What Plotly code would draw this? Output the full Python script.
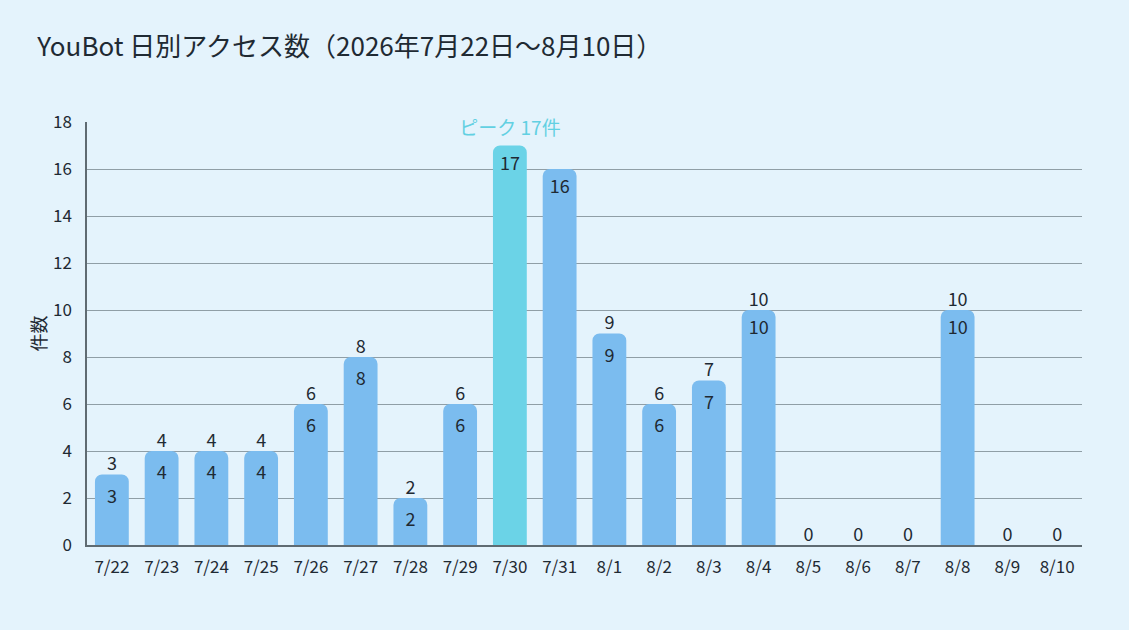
import plotly.graph_objects as go

# Daily access counts
dates = ["7/22", "7/23", "7/24", "7/25", "7/26", "7/27", "7/28", "7/29", "7/30", "7/31",
         "8/1", "8/2", "8/3", "8/4", "8/5", "8/6", "8/7", "8/8", "8/9", "8/10"]
counts = [3, 4, 4, 4, 6, 8, 2, 6, 17, 16, 9, 6, 7, 10, 0, 0, 0, 10, 0, 0]

bg = "#e4f3fc"
blue = "#7bbcef"
peak_color = "#6bd3e7"

peak = max(counts)
peak_idx = counts.index(peak)
colors = [peak_color if i == peak_idx else blue for i in range(len(counts))]

# labels inside the bar (top) and above the bar
inside_text = [str(v) if v > 0 else "" for v in counts]
above_text = [str(v) if v < 15 else "" for v in counts]

fig = go.Figure()
fig.add_trace(go.Bar(
    x=dates,
    y=counts,
    marker=dict(color=colors, line=dict(width=0)),
    text=inside_text,
    textposition="inside",
    insidetextanchor="end",
    textangle=0,
    textfont=dict(size=18, color="#1f2a33"),
    hoverinfo="x+y",
))
fig.add_trace(go.Scatter(
    x=dates,
    y=counts,
    mode="text",
    text=above_text,
    textposition="top center",
    textfont=dict(size=18, color="#1f2a33"),
    hoverinfo="skip",
))

fig.add_annotation(
    x=dates[peak_idx], y=18, text=f"ピーク {peak}件",
    showarrow=False, yanchor="middle", yshift=-4,
    font=dict(size=19, color="#62d0e2"),
    bgcolor=bg, borderpad=1, width=130,
)

fig.update_layout(
    title=dict(text="YouBot 日別アクセス数（2026年7月22日〜8月10日）",
               x=0.033, y=0.925, xanchor="left", yanchor="middle",
               font=dict(size=26, color="#1f2a33")),
    width=1129, height=630,
    paper_bgcolor=bg, plot_bgcolor=bg,
    font=dict(family="Noto Sans CJK JP, Noto Sans, sans-serif", color="#1f2a33"),
    margin=dict(l=87, r=47, t=122, b=85),
    showlegend=False,
    bargap=0.32,
    barcornerradius=7,
    xaxis=dict(range=[-0.5, len(dates) - 0.5], showline=True, linecolor="#5f6b72",
               linewidth=1.5, tickfont=dict(size=17), ticks="", showgrid=False,
               ticklabelstandoff=6),
    yaxis=dict(range=[0, 18], dtick=2, showline=True, linecolor="#5f6b72", linewidth=1.5,
               gridcolor="#8f9ea6", gridwidth=1, zeroline=False,
               tickfont=dict(size=17), ticks="", ticklabelstandoff=10,
               title=dict(text="件数", font=dict(size=18), standoff=2)),
)

fig.write_html("out.html", post_script="document.body.style.margin='0';",
               config={"displayModeBar": False})
